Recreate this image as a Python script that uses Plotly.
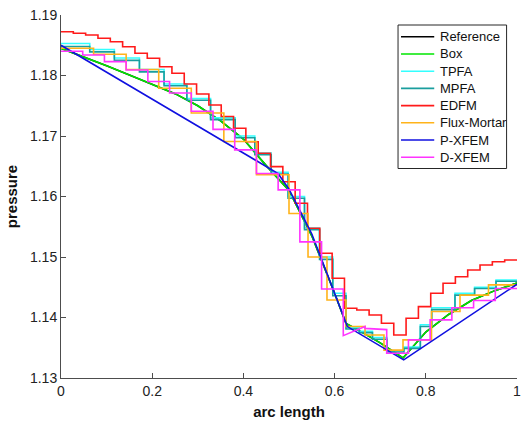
import plotly.graph_objects as go

# ---------------- data ----------------
ref_x = [0, 0.05, 0.1, 0.15, 0.2, 0.25, 0.3, 0.35, 0.4, 0.45, 0.5, 0.55, 0.6, 0.625,
         0.65, 0.7, 0.75, 0.8, 0.85, 0.9, 0.95, 1.0]
ref_y = [1.1845, 1.1831, 1.1816, 1.1801, 1.1785, 1.1770, 1.1750, 1.1725, 1.1695, 1.1651,
         1.1610, 1.1535, 1.1440, 1.1390, 1.1380, 1.1358, 1.1333, 1.1376, 1.1405, 1.1428,
         1.1444, 1.1457]

box_x = ref_x
box_y = ref_y

tpfa_edges = [0, 0.063, 0.117, 0.172, 0.226, 0.276, 0.328, 0.382, 0.425, 0.461, 0.498,
              0.534, 0.567, 0.596, 0.625, 0.654, 0.683, 0.715, 0.752, 0.788, 0.813,
              0.864, 0.907, 0.954, 1.0]
tpfa_vals = [1.1853, 1.1843, 1.1829, 1.1810, 1.1786, 1.1762, 1.1730, 1.1700, 1.1672,
             1.1640, 1.1600, 1.1548, 1.1500, 1.1440, 1.1383, 1.1377, 1.1367, 1.1345,
             1.1351, 1.1388, 1.1416, 1.1440, 1.1450, 1.1462]

mpfa_edges = tpfa_edges
mpfa_vals = [1.1848, 1.1839, 1.1825, 1.1806, 1.1783, 1.1759, 1.1727, 1.1697, 1.1669,
             1.1637, 1.1597, 1.1545, 1.1496, 1.1436, 1.1381, 1.1375, 1.1364, 1.1343,
             1.1349, 1.1385, 1.1413, 1.1437, 1.1448, 1.1460]

edfm_n = 37
edfm_vals = [1.18724, 1.18698, 1.18669, 1.18615, 1.18559, 1.18476, 1.18367, 1.18284,
             1.18145, 1.18036, 1.17860, 1.17694, 1.17512, 1.17322, 1.17127, 1.16906,
             1.16714, 1.16493, 1.16245, 1.15888, 1.15474, 1.15061, 1.14648, 1.14152,
             1.14124, 1.14041, 1.13904, 1.13711, 1.13987, 1.14179, 1.14400, 1.14565,
             1.14674, 1.14785, 1.14868, 1.14922, 1.14950]

mortar_edges = [0, 0.0714, 0.1429, 0.2143, 0.2857, 0.3571, 0.4286, 0.5, 0.5417, 0.5833,
                0.625, 0.6667, 0.7083, 0.75, 0.8125, 0.875, 0.9375, 1.0]
mortar_vals = [1.1845, 1.1835, 1.1810, 1.1779, 1.1738, 1.1691, 1.1636, 1.1572, 1.1500,
               1.1429, 1.1385, 1.1371, 1.1346, 1.1363, 1.1410, 1.1437, 1.1454]

pxfem_x = [0, 0.476, 0.5, 0.55, 0.6, 0.628, 0.7515, 1.0]
pxfem_y = [1.1850, 1.1638, 1.1612, 1.1538, 1.1440, 1.1385, 1.1330, 1.1455]

dxfem_n = 21
dxfem_left = [1.1840, 1.1834, 1.1823, 1.1809, 1.1790, 1.1771, 1.1741, 1.1711, 1.1677,
              1.1638, 1.1611, 1.1525, 1.1447, 1.1370, 1.1382, 1.1341, 1.1363, 1.1396,
              1.1416, 1.1428, 1.1448]
dxfem_right = [1.1840, 1.1834, 1.1823, 1.1809, 1.1790, 1.1771, 1.1741, 1.1711, 1.1677,
               1.1638, 1.1611, 1.1525, 1.1447, 1.1385, 1.1380, 1.1341, 1.1363, 1.1396,
               1.1416, 1.1428, 1.1448]

names = ["Reference", "Box", "TPFA", "MPFA", "EDFM", "Flux-Mortar", "P-XFEM", "D-XFEM"]
colors = ["#000000", "#00e600", "#33ffff", "#1a9e9e", "#ff1a1a", "#ffb31a", "#1010e0", "#ff33ff"]

x_ticks = [0, 0.2, 0.4, 0.6, 0.8, 1]
x_tick_text = ["0", "0.2", "0.4", "0.6", "0.8", "1"]
y_ticks = [1.13, 1.14, 1.15, 1.16, 1.17, 1.18, 1.19]
y_tick_text = ["1.13", "1.14", "1.15", "1.16", "1.17", "1.18", "1.19"]


# ---------------- helpers ----------------
def uniform_edges(n):
    return [i / n for i in range(n + 1)]


def steps(edges, left, right=None):
    if right is None:
        right = left
    xs, ys = [], []
    for i in range(len(left)):
        xs += [edges[i], edges[i + 1]]
        ys += [left[i], right[i]]
    return xs, ys


series = [
    (ref_x, ref_y),
    (box_x, box_y),
    steps(tpfa_edges, tpfa_vals),
    steps(mpfa_edges, mpfa_vals),
    steps(uniform_edges(edfm_n), edfm_vals),
    steps(mortar_edges, mortar_vals),
    (pxfem_x, pxfem_y),
    steps(uniform_edges(dxfem_n), dxfem_left, dxfem_right),
]

LW = 1.6
fig = go.Figure()
for (xs, ys), name, col in zip(series, names, colors):
    fig.add_trace(go.Scatter(x=xs, y=ys, mode="lines", name=name, showlegend=False,
                             line=dict(color=col, width=LW)))

# ---------------- layout ----------------
W, H = 525, 422
ML, MR, MT, MB = 61, 4, 15, 44
PW, PH = W - ML - MR, H - MT - MB


def px_to_paper_x(px):
    return (px - ML) / PW


def py_to_paper_y(py):
    return (H - MB - py) / PH


font = "Liberation Sans, Arial, Helvetica, sans-serif"

# hand-drawn legend (compact row spacing like the original)
shapes = [dict(type="rect", xref="paper", yref="paper",
               x0=px_to_paper_x(401), x1=px_to_paper_x(510.5),
               y0=py_to_paper_y(168.5), y1=py_to_paper_y(25),
               line=dict(color="#262626", width=1), fillcolor="white", layer="above")]
annotations = []
row0, drow = 36.8, 17.2
for i, (name, col) in enumerate(zip(names, colors)):
    yy = py_to_paper_y(row0 + i * drow)
    shapes.append(dict(type="line", xref="paper", yref="paper",
                       x0=px_to_paper_x(404), x1=px_to_paper_x(437.5), y0=yy, y1=yy,
                       line=dict(color=col, width=LW), layer="above"))
    annotations.append(dict(text=name, xref="paper", yref="paper",
                            x=px_to_paper_x(441.5), y=yy, xanchor="left", yanchor="middle",
                            showarrow=False, font=dict(family=font, size=13, color="#111111")))

fig.update_layout(
    width=W, height=H,
    margin=dict(l=ML, r=MR, t=MT, b=MB),
    paper_bgcolor="white", plot_bgcolor="white",
    font=dict(family=font, size=14, color="#222222"),
    showlegend=False,
    shapes=shapes, annotations=annotations,
)
fig.update_xaxes(range=[0, 1], tickvals=x_ticks, ticktext=x_tick_text,
                 showline=True, linecolor="#4d4d4d", linewidth=1,
                 ticks="inside", ticklen=5, tickcolor="#4d4d4d",
                 ticklabeloverflow="allow",
                 showgrid=False, zeroline=False, mirror=False,
                 title=dict(text="<b>arc length</b>", standoff=8,
                            font=dict(size=15, color="#111111")))
fig.update_yaxes(range=[1.13, 1.19], tickvals=y_ticks, ticktext=y_tick_text,
                 showline=True, linecolor="#4d4d4d", linewidth=1,
                 ticks="inside", ticklen=5, tickcolor="#4d4d4d",
                 showgrid=False, zeroline=False, mirror=False,
                 title=dict(text="<b>pressure</b>", standoff=8,
                            font=dict(size=15, color="#111111")))

fig.write_html("out.html")
